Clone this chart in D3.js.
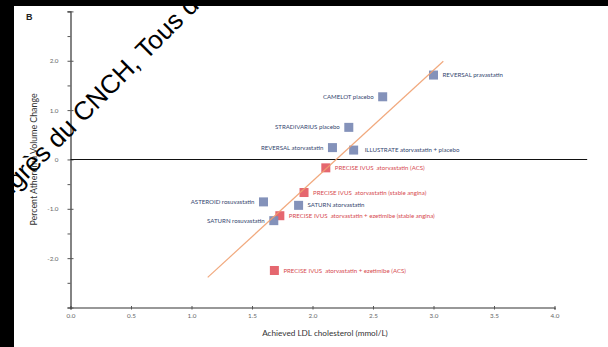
<!DOCTYPE html>
<html><head><meta charset="utf-8">
<script src="https://cdn.jsdelivr.net/npm/d3@7"></script>
<style>
html,body{margin:0;padding:0;background:#fff;}
svg{display:block;}
</style></head>
<body>
<svg id="chart" width="608" height="347"></svg>
<script>
// ---- data ----
const trials = [
  "REVERSAL pravastatin",
  "CAMELOT placebo",
  "STRADIVARIUS placebo",
  "REVERSAL atorvastatin",
  "ILLUSTRATE atorvastatin + placebo",
  "PRECISE IVUS  atorvastatin (ACS)",
  "PRECISE IVUS  atorvastatin (stable angina)",
  "ASTEROID rosuvastatin",
  "SATURN atorvastatin",
  "PRECISE IVUS  atorvastatin + ezetimibe (stable angina)",
  "SATURN rosuvastatin",
  "PRECISE IVUS  atorvastatin + ezetimibe (ACS)"
];
const ldl = [3.0, 2.58, 2.30, 2.165, 2.34, 2.11, 1.93, 1.595, 1.885, 1.73, 1.68, 1.685];
const pavChange = [1.71, 1.27, 0.65, 0.24, 0.19, -0.17, -0.67, -0.86, -0.93, -1.14, -1.24, -2.25];
const group = ["other","other","other","other","other","precise","precise","other","other","precise","other","precise"];
const labelSide = ["right","left","left","left","right","right","right","left","right","right","left","right"];
const regLDL = [1.134, 3.081];
const regPAV = [-2.39, 1.99];
const xTicks = [0, 0.5, 1, 1.5, 2, 2.5, 3, 3.5, 4];
const yTicks = [-3, -2.5, -2, -1.5, -1, -0.5, 0, 0.5, 1, 1.5, 2, 2.5, 3];
const yLabels = {"-2":"-2.0","-1":"-1.0","0":"0","1":"1.0","2":"2.0"};
const xTitle = "Achieved LDL cholesterol (mmol/L)";
const yTitle = "Percent Atheroma Volume Change";

// ---- drawing ----
const svg = d3.select("#chart");
const x = d3.scaleLinear().domain([0, 4]).range([70.5, 554.5]);
const y = d3.scaleLinear().domain([-3, 3]).range([307.5, 11.4]);
const color = {other: "#7d8cb6", precise: "#e45f67"};
const textColor = {other: "#34466f", precise: "#d64a50"};
const FONT = "Lato, Open Sans, sans-serif";

svg.append("rect").attr("width",608).attr("height",347).attr("fill","#fff");

// panel label
svg.append("text").attr("x",26).attr("y",19.5).text("B")
  .attr("font-family","Liberation Sans, Arial, sans-serif").attr("font-weight","bold")
  .attr("font-size",9).attr("fill","#222");

// axes
const xAxis = d3.axisBottom(x).tickValues(xTicks).tickFormat(d3.format(".1f")).tickSize(2).tickPadding(4);
const gx = svg.append("g").attr("transform",`translate(0,${y(-3)})`).call(xAxis);
gx.select(".domain").attr("stroke","#333").attr("stroke-width",1.2);
gx.selectAll(".tick line").attr("stroke","#555").attr("y1",-1.5);
gx.selectAll(".tick text").attr("fill","#666").attr("font-size",6.3).attr("font-family",FONT);

const yAxis = d3.axisLeft(y).tickValues(yTicks).tickFormat(d => yLabels[String(d)] || "").tickSize(3).tickPadding(9);
const gy = svg.append("g").attr("transform",`translate(${x(0)},0)`).call(yAxis);
gy.select(".domain").attr("stroke","#333").attr("stroke-width",1.2);
gy.selectAll(".tick line").attr("stroke","#555")
  .attr("x2", d => Number.isInteger(d) ? 3 : -3).attr("x1", d => Number.isInteger(d) ? -3 : 0);
gy.selectAll(".tick text").attr("fill","#666").attr("font-size",6.3).attr("font-family",FONT);

// zero line
svg.append("line").attr("x1",x(0)).attr("x2",x(4.27)).attr("y1",y(0)).attr("y2",y(0))
  .attr("stroke","#111").attr("stroke-width",1.1);

// titles
svg.append("text").attr("x",325).attr("y",336).attr("text-anchor","middle").text(xTitle)
  .attr("font-family",FONT).attr("font-size",8.2).attr("fill","#333");
svg.append("text").attr("transform",`translate(37,${y(0)}) rotate(-90)`).attr("text-anchor","middle").text(yTitle)
  .attr("font-family",FONT).attr("font-size",8.8).attr("fill","#333");

// points
const pts = trials.map((t,i)=>({t, x:ldl[i], y:pavChange[i], g:group[i], s:labelSide[i]}));
const order = pts.slice().sort((a,b)=> (a.g==="precise"?0:1)-(b.g==="precise"?0:1));
const sz = 9;
svg.append("g").selectAll("rect").data(order).join("rect")
  .attr("x", d => x(d.x)-sz/2).attr("y", d => y(d.y)-sz/2)
  .attr("width",sz).attr("height",sz).attr("fill", d => color[d.g]).attr("opacity",0.95);

// regression line
svg.append("line").attr("x1",x(regLDL[0])).attr("y1",y(regPAV[0]))
  .attr("x2",x(regLDL[1])).attr("y2",y(regPAV[1]))
  .attr("stroke","#f0a070").attr("stroke-width",1.2).attr("opacity",0.9);

// labels
svg.append("g").selectAll("text").data(pts).join("text")
  .attr("x", d => x(d.x) + (d.s==="right" ? (d.t.startsWith("ILLUSTRATE")?11:9) : -9))
  .attr("y", d => y(d.y)+2.1)
  .attr("text-anchor", d => d.s==="right" ? "start" : "end")
  .attr("font-family",FONT).attr("font-size",6.1)
  .attr("fill", d => textColor[d.g])
  .style("white-space","pre")
  .text(d => d.t);

// watermark
svg.append("text").attr("transform","translate(-17,224) rotate(-45)")
  .attr("font-family","Liberation Sans, Arial, sans-serif").attr("font-size",26).attr("fill","#000")
  .text("Congrès du CNCH, Tous droits réservés");

// black borders
svg.append("rect").attr("x",0).attr("y",0).attr("width",608).attr("height",6).attr("fill","#000");
svg.append("rect").attr("x",0).attr("y",0).attr("width",14).attr("height",347).attr("fill","#000");
</script>
</body></html>
